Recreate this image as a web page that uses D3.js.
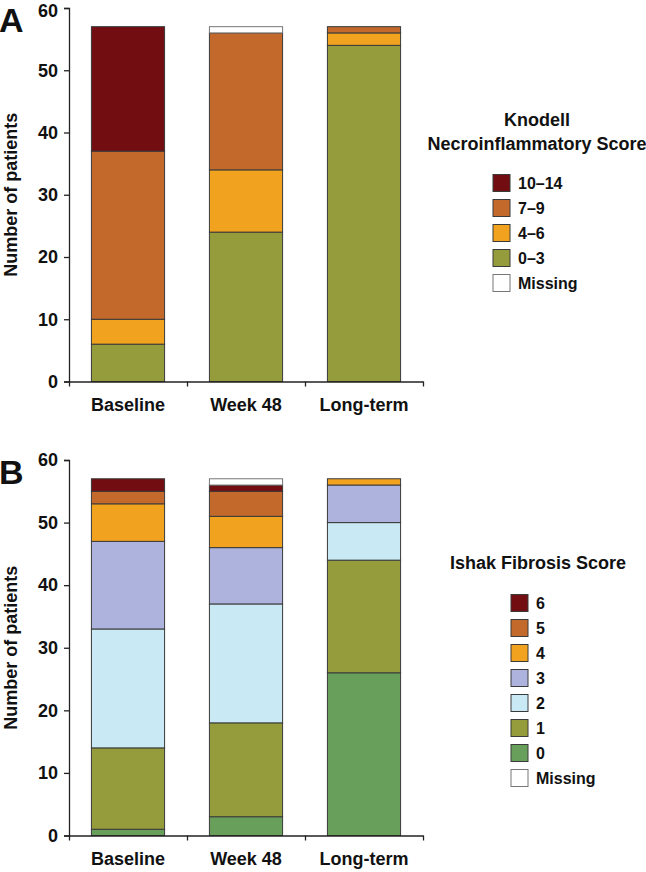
<!DOCTYPE html>
<html>
<head>
<meta charset="utf-8">
<script src="https://cdn.jsdelivr.net/npm/d3@7"></script>
<style>
  html, body { margin: 0; padding: 0; background: #fff; }
  svg { display: block; font-family: "Liberation Sans", Arial, sans-serif; }
</style>
</head>
<body>
<svg id="chart" width="646" height="872"></svg>
<script>
// ---- Data ----
const categories = ["Baseline", "Week 48", "Long-term"];
const yTicks = [0, 10, 20, 30, 40, 50, 60];

// Panel A: Knodell Necroinflammatory Score (stack bottom -> top)
const knodellKeys = ["0–3", "4–6", "7–9", "10–14", "Missing"];
const knodell_0_3   = [6, 24, 54];
const knodell_4_6   = [4, 10, 2];
const knodell_7_9   = [27, 22, 1];
const knodell_10_14 = [20, 0, 0];
const knodell_miss  = [0, 1, 0];
const knodellLegendOrder = ["10–14", "7–9", "4–6", "0–3", "Missing"];

// Panel B: Ishak Fibrosis Score (stack bottom -> top)
const ishakKeys = ["0", "1", "2", "3", "4", "5", "6", "Missing"];
const ishak_0 = [1, 3, 26];
const ishak_1 = [13, 15, 18];
const ishak_2 = [19, 19, 6];
const ishak_3 = [14, 9, 6];
const ishak_4 = [6, 5, 1];
const ishak_5 = [2, 4, 0];
const ishak_6 = [2, 1, 0];
const ishak_miss = [0, 1, 0];
const ishakLegendOrder = ["6", "5", "4", "3", "2", "1", "0", "Missing"];

// ---- Colours ----
const knodellColors = {
  "10–14": "#720d11", "7–9": "#c2692b", "4–6": "#f1a31f", "0–3": "#949c3b", "Missing": "#ffffff"
};
const ishakColors = {
  "6": "#720d11", "5": "#c2692b", "4": "#f1a31f", "3": "#adb3dc",
  "2": "#c9e9f4", "1": "#949c3b", "0": "#68a05b", "Missing": "#ffffff"
};

function buildRows(keys, arrays) {
  return categories.map((c, i) => {
    const r = { cat: c };
    keys.forEach((k, j) => { r[k] = arrays[j][i]; });
    return r;
  });
}
const knodellRows = buildRows(knodellKeys, [knodell_0_3, knodell_4_6, knodell_7_9, knodell_10_14, knodell_miss]);
const ishakRows = buildRows(ishakKeys, [ishak_0, ishak_1, ishak_2, ishak_3, ishak_4, ishak_5, ishak_6, ishak_miss]);

const svg = d3.select("#chart");
const FONT = "Liberation Sans, Arial, sans-serif";

function drawPanel(cfg) {
  const g = svg.append("g");
  const x = d3.scaleBand().domain(categories).range([69, 423]).paddingInner(0.38).paddingOuter(0.19);
  const y = d3.scaleLinear().domain([0, 60]).range([cfg.y0, cfg.y60]);

  const series = d3.stack().keys(cfg.keys)(cfg.rows);

  g.selectAll("g.series").data(series).join("g")
    .attr("class", "series")
    .attr("fill", d => cfg.colors[d.key])
    .selectAll("rect").data(d => d.filter(p => p[1] - p[0] > 0).map(p => Object.assign(p, { key: d.key })))
    .join("rect")
    .attr("x", d => x(d.data.cat))
    .attr("width", x.bandwidth())
    .attr("y", d => y(d[1]))
    .attr("height", d => y(d[0]) - y(d[1]))
    .attr("stroke", d => d.key === "Missing" ? "#777" : "#3a3a3a")
    .attr("stroke-width", 1);

  // y axis
  const ya = g.append("g").attr("transform", "translate(69,0)")
    .call(d3.axisLeft(y).tickValues(yTicks).tickSize(5).tickPadding(6));
  ya.selectAll("text").attr("font-size", 18).attr("font-weight", "bold").attr("fill", "#111")
    .attr("font-family", FONT);
  if (cfg.topLabelShift) {
    ya.selectAll(".tick").filter(d => d === 60).select("text").attr("y", cfg.topLabelShift);
  }
  ya.selectAll("path,line").attr("stroke", "#222").attr("stroke-width", 1.3);

  // x axis: boundary ticks
  const xb = d3.scaleLinear().domain([0, categories.length]).range([69, 423]);
  const xa = g.append("g").attr("transform", `translate(0,${cfg.y0})`)
    .call(d3.axisBottom(xb).tickValues(d3.range(categories.length + 1)).tickSize(5).tickSizeOuter(0).tickFormat(""));
  xa.selectAll("path,line").attr("stroke", "#222").attr("stroke-width", 1.3);

  // x labels at band centres
  const xl = g.append("g").attr("transform", `translate(0,${cfg.y0})`)
    .call(d3.axisBottom(x).tickSize(0).tickPadding(17));
  xl.select(".domain").remove();
  xl.selectAll("text").attr("font-size", 18).attr("font-weight", "bold").attr("fill", "#111")
    .attr("font-family", FONT);

  // y axis title
  g.append("text")
    .attr("transform", `translate(17,${(cfg.y0 + cfg.y60) / 2}) rotate(-90)`)
    .attr("text-anchor", "middle")
    .attr("font-size", 18).attr("font-weight", "bold").attr("fill", "#111")
    .text("Number of patients");

  // panel letter
  g.append("text").attr("x", -1).attr("y", cfg.y60 + 24)
    .attr("font-size", 34).attr("font-weight", "bold").attr("fill", "#111")
    .text(cfg.letter);

  // legend title
  cfg.title.forEach((t, i) => {
    g.append("text").attr("x", cfg.titleX).attr("y", cfg.titleY + i * 24)
      .attr("text-anchor", "middle").attr("font-size", 18).attr("font-weight", "bold").attr("fill", "#111")
      .text(t);
  });

  // legend items
  const li = g.selectAll("g.leg").data(cfg.legendOrder).join("g")
    .attr("class", "leg")
    .attr("transform", (d, i) => `translate(${cfg.legX},${cfg.legY + i * cfg.legStep})`);
  li.append("rect").attr("x", 0).attr("y", -8.5).attr("width", 17).attr("height", 17)
    .attr("fill", d => cfg.colors[d])
    .attr("stroke", d => d === "Missing" ? "#777" : "#3a3a3a").attr("stroke-width", 1);
  li.append("text").attr("x", 25).attr("y", 0).attr("dy", "0.36em")
    .attr("font-size", 16).attr("font-weight", "bold").attr("fill", "#111")
    .text(d => d);
}

drawPanel({
  letter: "A", keys: knodellKeys, rows: knodellRows, colors: knodellColors,
  y0: 381.5, y60: 8, topLabelShift: 3,
  title: ["Knodell", "Necroinflammatory Score"], titleX: 537, titleY: 126,
  legendOrder: knodellLegendOrder, legX: 493, legY: 183, legStep: 25
});

drawPanel({
  letter: "B", keys: ishakKeys, rows: ishakRows, colors: ishakColors,
  y0: 835.5, y60: 460,
  title: ["Ishak Fibrosis Score"], titleX: 538, titleY: 569,
  legendOrder: ishakLegendOrder, legX: 511, legY: 603, legStep: 25
});
</script>
</body>
</html>
